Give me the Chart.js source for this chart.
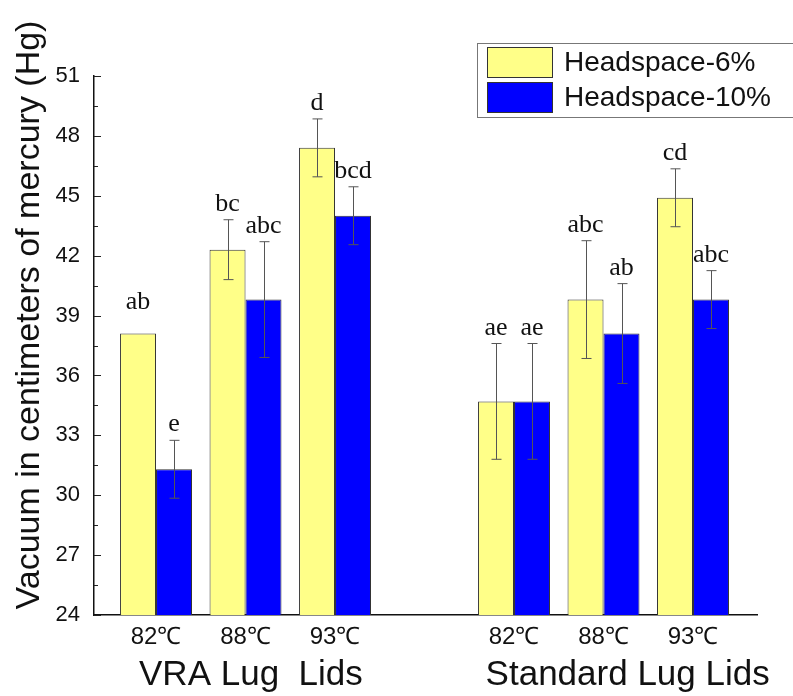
<!DOCTYPE html>
<html><head><meta charset="utf-8">
<script src="https://cdn.jsdelivr.net/npm/chart.js@4.4.0/dist/chart.umd.min.js"></script>
<style>html,body{margin:0;padding:0;background:#fff;} canvas{display:block;}</style>
</head><body>
<canvas id="c" width="793" height="696"></canvas>
<script>
const categories = ['82℃','88℃','93℃','82℃','88℃','93℃'];
const groups = ['VRA Lug  Lids','Standard Lug Lids'];
const seriesNames = ['Headspace-6%','Headspace-10%'];
const hs6 = [38.1, 42.3, 47.4, 34.7, 39.8, 44.9];
const hs10 = [31.3, 39.8, 44.0, 34.7, 38.1, 39.8];
const hs6Err = [0, 1.5, 1.45, 2.9, 2.95, 1.45];
const hs10Err = [1.45, 2.9, 1.45, 2.9, 2.5, 1.45];
const hs6Letters = ['ab','bc','d','ae','abc','cd'];
const hs10Letters = ['e','abc','bcd','ae','ab','abc'];
const yTicks = [24,27,30,33,36,39,42,45,48,51];
const yTitle = 'Vacuum in centimeters of mercury (Hg)';

const SANS = '"Liberation Sans", Arial, sans-serif';
const SERIF = '"Liberation Serif", "Times New Roman", serif';
const slot = i => (i < 3 ? i : i + 1);
const groupTickPos = [1.06, 5.27];

const bg = {
  id: 'bg',
  beforeDraw(chart) {
    const c = chart.ctx; c.save(); c.fillStyle = '#fff';
    c.fillRect(0, 0, chart.width, chart.height); c.restore();
  }
};

const extras = {
  id: 'extras',
  afterDatasetsDraw(chart) {
    const c = chart.ctx, ys = chart.scales.y;
    c.save();
    chart.data.datasets.forEach((ds, di) => {
      const meta = chart.getDatasetMeta(di);
      meta.data.forEach((bar, i) => {
        const v = ds.data[i].y, e = ds.errors[i];
        const x = Math.round(bar.x) + 0.5;
        if (e > 0) {
          const t = ys.getPixelForValue(v + e), b = ys.getPixelForValue(v - e);
          c.strokeStyle = '#555'; c.lineWidth = 1;
          c.beginPath();
          c.moveTo(x, t); c.lineTo(x, b);
          c.moveTo(x - 5, t); c.lineTo(x + 5, t);
          c.moveTo(x - 5, b); c.lineTo(x + 5, b);
          c.stroke();
        }
        const ly = ys.getPixelForValue(v + Math.max(e, 0.8)) - 9;
        c.fillStyle = '#111'; c.font = '26px ' + SERIF;
        c.textAlign = 'center'; c.textBaseline = 'alphabetic';
        c.fillText(ds.letters[i], bar.x, ly);
      });
    });
    c.restore();
  },
  afterDraw(chart) {
    const c = chart.ctx, ys = chart.scales.y, left = chart.chartArea.left;
    c.save();
    c.strokeStyle = '#222'; c.lineWidth = 1;
    c.beginPath();
    yTicks.forEach((v, i) => {
      const p = Math.round(ys.getPixelForValue(v)) + 0.5;
      c.moveTo(left, p); c.lineTo(left + 7, p);
      if (i < yTicks.length - 1) {
        const m = Math.round(ys.getPixelForValue(v + 1.5)) + 0.5;
        c.moveTo(left, m); c.lineTo(left + 4, m);
      }
    });
    c.stroke();
    c.save();
    c.translate(30, 315); c.rotate(-Math.PI / 2);
    c.fillStyle = '#111'; c.font = '34px ' + SANS;
    c.textAlign = 'center'; c.textBaseline = 'middle';
    c.fillText(yTitle, 0, 0);
    c.restore();
    c.strokeStyle = '#777'; c.lineWidth = 1;
    c.strokeRect(477.5, 43.5, 320, 74);
    chart.data.datasets.forEach((ds, i) => {
      const y = 47 + i * 35;
      c.fillStyle = ds.backgroundColor;
      c.fillRect(487, y, 66, 31);
      c.strokeStyle = '#333';
      c.strokeRect(487.5, y + 0.5, 65, 30);
      c.fillStyle = '#111'; c.font = '28px ' + SANS;
      c.textAlign = 'left'; c.textBaseline = 'middle';
      c.fillText(ds.label, 564, y + 16);
    });
    c.restore();
  }
};

const noPad = s => { s.paddingLeft = 0; s.paddingRight = 0; s.paddingTop = 0; s.paddingBottom = 0; };

new Chart(document.getElementById('c'), {
  type: 'bar',
  data: {
    datasets: [
      { label: seriesNames[0], data: hs6.map((v, i) => ({ x: slot(i), y: v })), errors: hs6Err, letters: hs6Letters,
        backgroundColor: '#FFFF88', borderColor: '#333', borderWidth: 1, borderSkipped: false,
        categoryPercentage: 0.804, barPercentage: 1.0 },
      { label: seriesNames[1], data: hs10.map((v, i) => ({ x: slot(i), y: v })), errors: hs10Err, letters: hs10Letters,
        backgroundColor: '#0000FF', borderColor: '#333', borderWidth: 1, borderSkipped: false,
        categoryPercentage: 0.804, barPercentage: 1.0 }
    ]
  },
  options: {
    responsive: false, animation: false, devicePixelRatio: 1,
    layout: { padding: { top: 76, right: 36, bottom: 0, left: 0 } },
    plugins: { legend: { display: false }, tooltip: { enabled: false } },
    scales: {
      x: {
        type: 'linear', position: 'bottom', weight: 0, min: -0.693, max: 6.715, offset: false,
        grid: { display: false, drawTicks: false, offset: false },
        border: { display: true, color: '#111', width: 1.5 },
        afterBuildTicks: s => { s.ticks = categories.map((c, i) => ({ value: slot(i) })); },
        afterFit: s => { s.height = 36; noPad(s); },
        ticks: { autoSkip: false, maxRotation: 0, padding: 8, color: '#111',
          font: { family: SANS, size: 24 }, callback: (v, i) => categories[i] }
      },
      xg: {
        type: 'linear', position: 'bottom', weight: 1, min: -0.693, max: 6.715, offset: false,
        grid: { display: false, drawTicks: false, offset: false }, border: { display: false },
        afterBuildTicks: s => { s.ticks = groupTickPos.map(v => ({ value: v })); },
        afterFit: s => { s.height = 45; noPad(s); },
        ticks: { autoSkip: false, maxRotation: 0, padding: 3, color: '#111',
          font: { family: SANS, size: 35 }, callback: (v, i) => groups[i] }
      },
      y: {
        min: 24, max: 51,
        grid: { display: false, drawTicks: false },
        border: { display: true, color: '#111', width: 1.5 },
        afterBuildTicks: s => { s.ticks = yTicks.map(v => ({ value: v })); },
        afterFit: s => { s.width = 94; noPad(s); },
        ticks: { padding: 14, color: '#111', font: { family: SANS, size: 22 } }
      }
    }
  },
  plugins: [bg, extras]
});
</script>
</body></html>
